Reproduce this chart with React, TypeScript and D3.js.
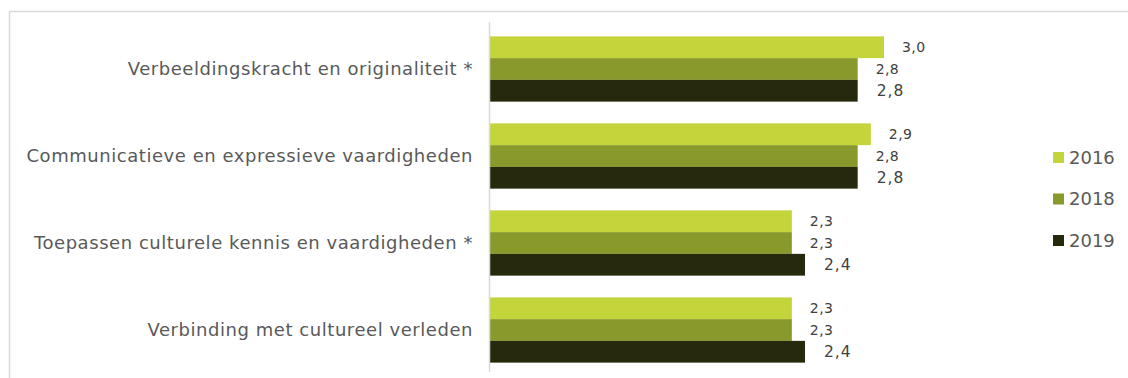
import React from "react";
import * as d3 from "d3";

const categories = [
  "Verbeeldingskracht en originaliteit *",
  "Communicatieve en expressieve vaardigheden",
  "Toepassen culturele kennis en vaardigheden *",
  "Verbinding met cultureel verleden",
];
const years = ["2016", "2018", "2019"];
const values2016 = [3.0, 2.9, 2.3, 2.3];
const values2018 = [2.8, 2.8, 2.3, 2.3];
const values2019 = [2.8, 2.8, 2.4, 2.4];
const colors = ["#c4d43b", "#8a992b", "#26290c"];

const W = 1128;
const H = 378;

export default function App() {
  const series = [values2016, values2018, values2019];
  const x = d3.scaleLinear().domain([0, 3]).range([489, 884]);
  const y0 = d3.scaleBand<string>().domain(categories).range([25.5, 373.5]).paddingInner(0.25).paddingOuter(0.125);
  const y1 = d3.scaleBand<string>().domain(years).range([0, y0.bandwidth()]);
  const fmt = (v: number) => d3.format(".1f")(v).replace(".", ",");
  const legendY = d3.scalePoint<string>().domain(years).range([157.5, 240.5]);

  return (
    <svg width={W} height={H} style={{ position: "absolute", left: 0, top: 0 }}
      fontFamily="'DejaVu Sans', sans-serif">
      <rect x={0} y={0} width={W} height={H} fill="#fff" />
      <rect x={9.5} y={11.5} width={W + 10} height={H + 10} fill="none" stroke="#d9d9d9" strokeWidth={1.5} />
      {categories.map((c, i) => (
        <g key={c}>
          {series.map((s, j) => {
            const yy = (y0(c) ?? 0) + (y1(years[j]) ?? 0);
            return (
              <g key={j}>
                <rect x={x(0)} y={yy} width={x(s[i]) - x(0)} height={y1.bandwidth()} fill={colors[j]} />
                <text
                  x={x(s[i]) + (j === 2 ? 19 : 18)}
                  y={yy + y1.bandwidth() / 2}
                  dy="0.35em"
                  fontSize={j === 2 ? 15.5 : 14}
                  letterSpacing={j === 2 ? 1 : 0.4}
                  fill="#404040"
                >
                  {fmt(s[i])}
                </text>
              </g>
            );
          })}
          <text
            x={473}
            y={(y0(c) ?? 0) + y0.bandwidth() / 2}
            dy="0.35em"
            textAnchor="end"
            fontSize={18}
            letterSpacing={0.55}
            fill="#595959"
          >
            {c}
          </text>
        </g>
      ))}
      <line x1={489.5} x2={489.5} y1={22} y2={372} stroke="#d9d9d9" strokeWidth={1.5} />
      {years.map((yr, j) => (
        <g key={yr}>
          <rect x={1053} y={(legendY(yr) ?? 0) - 5.5} width={11} height={11} fill={colors[j]} />
          <text x={1069} y={legendY(yr) ?? 0} dy="0.35em" fontSize={18} fill="#595959">{yr}</text>
        </g>
      ))}
    </svg>
  );
}
